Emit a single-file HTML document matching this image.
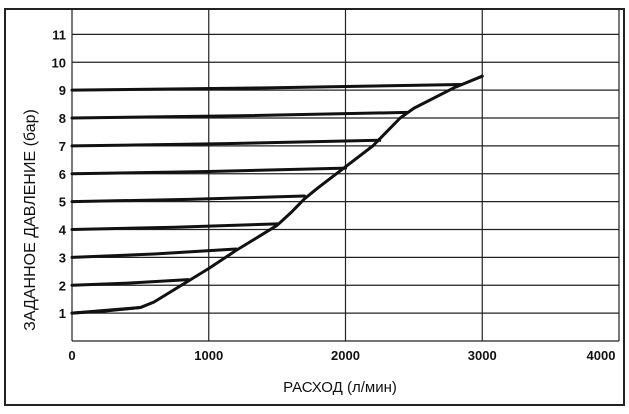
<!DOCTYPE html>
<html><head><meta charset="utf-8"><style>
html,body{margin:0;padding:0;background:#fff;}
svg{display:block;font-family:"Liberation Sans","DejaVu Sans",sans-serif;}
</style></head><body>
<svg id="chart" width="629" height="414" viewBox="0 0 629 414">
<rect x="5" y="9" width="619" height="396" fill="#fff" stroke="#222" stroke-width="2"/>
<g id="grid"></g>
<g id="ticks"></g>
<g id="series"></g>
<text x="340" y="392" text-anchor="middle" font-size="15" fill="#111">РАСХОД (л/мин)</text>
<text transform="translate(35,220) rotate(-90)" text-anchor="middle" font-size="16" fill="#111">ЗАДАННОЕ ДАВЛЕНИЕ (бар)</text>
</svg>
<script>
const xTicks = [0, 1000, 2000, 3000, 4000];
const yTicks = [1, 2, 3, 4, 5, 6, 7, 8, 9, 10, 11];
const settings = [1, 2, 3, 4, 5, 6, 7, 8, 9];
const lineEndFlow = [500, 850, 1200, 1500, 1700, 2000, 2250, 2450, 2850];
const lineEndRise = [0.2, 0.2, 0.3, 0.2, 0.2, 0.2, 0.2, 0.2, 0.2];
const envFlow = [0, 500, 600, 800, 1000, 1200, 1400, 1500, 1600, 1700, 1800, 2000, 2200, 2300, 2400, 2500, 2800, 3000];
const envPress = [1, 1.2, 1.4, 2.0, 2.6, 3.25, 3.85, 4.15, 4.6, 5.1, 5.5, 6.25, 7.0, 7.5, 8.0, 8.35, 9.1, 9.5];

const NS = "http://www.w3.org/2000/svg";
const X0 = 72, X1 = 619, Y0 = 341, YU = 27.875;
const xs = v => X0 + v / 4000 * (X1 - X0);
const ys = v => Y0 - v * YU;
function mk(tag, attrs, parent) {
  const e = document.createElementNS(NS, tag);
  for (const k in attrs) e.setAttribute(k, attrs[k]);
  parent.appendChild(e);
  return e;
}
const grid = document.getElementById('grid');
const ticks = document.getElementById('ticks');
const series = document.getElementById('series');

xTicks.forEach(t => {
  const l = mk('line', {x1: xs(t), x2: xs(t), y1: 10, y2: Y0, stroke: '#222', 'stroke-width': 1.2}, grid);
  
  
  const tx = mk('text', {x: t === 4000 ? xs(t) - 18 : xs(t), y: 360, 'text-anchor': 'middle', 'font-size': 13, 'font-weight': 'bold', fill: '#111'}, ticks);
  tx.textContent = t;
  
  
});
const bl = mk('line', {x1: X0, x2: X1, y1: Y0, y2: Y0, stroke: '#222', 'stroke-width': 1.2}, grid);


yTicks.forEach(t => {
  const l = mk('line', {x1: X0, x2: X1, y1: ys(t), y2: ys(t), stroke: '#222', 'stroke-width': 1.2}, grid);
  
  
  const tx = mk('text', {x: 66, y: ys(t) + 5, 'text-anchor': 'end', 'font-size': 13, 'font-weight': 'bold', fill: '#111'}, ticks);
  tx.textContent = t;
  
  
});

settings.forEach((p, i) => {
  const e = lineEndFlow[i], r = lineEndRise[i];
  const pts = [[0, p], [e * 0.5, p + r * 0.4], [e, p + r]];
  const pl = mk('polyline', {points: pts.map(q => xs(q[0]) + ',' + ys(q[1])).join(' '), fill: 'none', stroke: '#111', 'stroke-width': 3, 'stroke-linejoin': 'round', 'stroke-linecap': 'round'}, series);
  
  
});
const env = mk('polyline', {points: envFlow.map((f, i) => xs(f) + ',' + ys(envPress[i])).join(' '), fill: 'none', stroke: '#111', 'stroke-width': 3, 'stroke-linejoin': 'round', 'stroke-linecap': 'round'}, series);


</script>
</body></html>
